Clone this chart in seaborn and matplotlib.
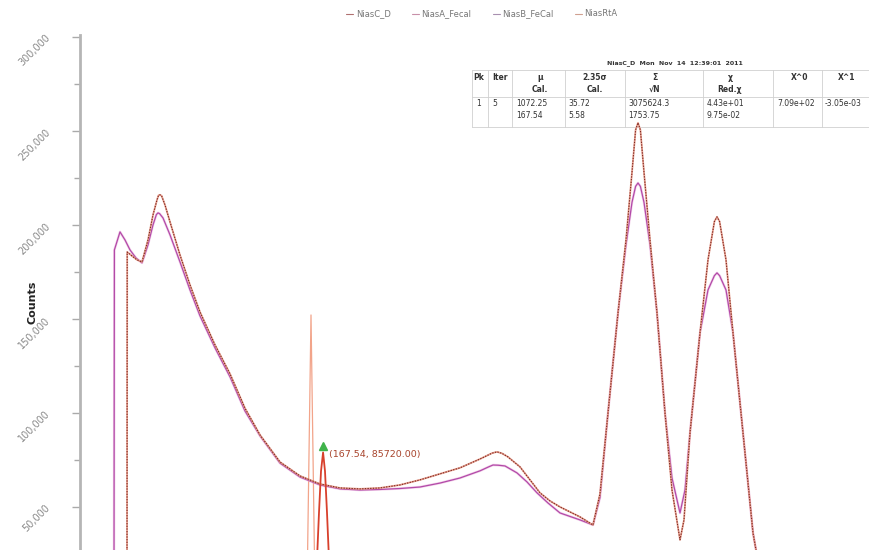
import numpy as np
import pandas as pd
import matplotlib
matplotlib.use('Agg')
import matplotlib.pyplot as plt
import matplotlib.ticker as mticker
from matplotlib.lines import Line2D
from matplotlib.patches import Rectangle
import seaborn as sns

# canales y cuentas
canal_c = [69.5, 69.6, 72, 74.5, 77, 80, 82.5, 84.5, 85.3, 86, 86.8, 88.5, 91, 96, 101, 106,
           113.5, 121, 128.5, 136, 146, 156, 166, 176, 186, 196, 206, 216, 226, 236, 246,
           252, 254.5, 257, 260, 266, 271, 276, 281, 286, 296, 302.5, 306, 310, 315, 319,
           322, 323.8, 325, 326.2, 328, 331, 334.5, 338.5, 342, 346, 348, 351, 356, 360,
           363.2, 364.5, 365.8, 369, 372.5, 377.5, 382.5, 386]
cuentas_c = [15000, 185600, 183500, 181400, 180300, 192000, 205300, 213300, 215800, 216000,
             215500, 210600, 201600, 184000, 168100, 153700, 136200, 120800, 102500, 88300,
             73900, 66500, 62200, 60100, 59600, 60100, 61700, 64400, 67600, 70800, 75500,
             78600, 79300, 78500, 76600, 71300, 64400, 57500, 53200, 50000, 44700, 40400,
             57000, 100000, 153200, 192000, 228000, 250500, 254300, 250500, 228000, 192000,
             153200, 100000, 59000, 32500, 43100, 89400, 142600, 181400, 201800, 204300,
             201800, 181400, 142600, 89400, 36200, 15000]

canal_b = [63, 63.2, 66, 68.5, 71, 74, 77, 80, 82.5, 84.2, 85, 85.8, 87.5, 91, 96, 101, 106,
           113.5, 121, 128.5, 136, 146, 156, 166, 176, 186, 196, 206, 216, 226, 236, 246,
           250.5, 252.5, 255, 258.5, 264.5, 269.5, 274.5, 280, 286, 296, 302.5, 306, 310,
           315, 319, 322, 323.8, 325, 326.2, 328, 331, 334.5, 338.5, 342, 346, 348.5, 351,
           356, 360, 363.2, 364.5, 365.8, 369, 372.5, 377.5, 382.5, 386]
cuentas_b = [15000, 186700, 196300, 192000, 186700, 182400, 179800, 189400, 200000, 205500,
             206400, 206000, 203700, 194700, 180300, 165400, 151600, 134600, 119200, 101000,
             87800, 73300, 65900, 61700, 59600, 59000, 59300, 59800, 60600, 62700, 65400,
             69200, 71400, 72300, 72200, 71800, 68100, 63300, 57500, 52100, 46800, 43100,
             40400, 55000, 100000, 153200, 189400, 212000, 220500, 222300, 220500, 212000,
             189400, 153200, 100000, 65400, 46800, 59000, 89400, 142600, 165400, 173000,
             174500, 173000, 165400, 142600, 89400, 36200, 15000]

canal_rta = [46, 159.5, 161.5, 163.5, 441]
cuentas_rta = [4000, 4000, 152100, 4000, 4000]

canal_ajuste = [162.5, 164.5, 165.5, 166.5, 167.54, 168.5, 169.5, 170.5, 172.5]
cuentas_ajuste = [5000, 22000, 47000, 69000, 79000, 69000, 47000, 22000, 5000]

pico_x, pico_y = 167.54, 85720.00
marcador_y = 82500

titulo_tabla = "NiasC_D  Mon  Nov  14  12:39:01  2011"
encabezados = [("Pk", ""), ("Iter", ""), ("\u03bc", "Cal."), ("2.35\u03c3", "Cal."),
               ("\u03a3", "\u221aN"), ("\u03c7", "Red.\u03c7"), ("X^0", ""), ("X^1", "")]
fila1 = ["1", "5", "1072.25", "35.72", "3075624.3", "4.43e+01", "7.09e+02", "-3.05e-03"]
fila2 = ["", "", "167.54", "5.58", "1753.75", "9.75e-02", "", ""]

sns.set_style('white')
fig = plt.figure(figsize=(8.7, 5.5), dpi=100)
fig.patch.set_facecolor('white')
ax = fig.add_axes([80 / 870, 0, 790 / 870, 515 / 550])
ax.patch.set_alpha(0)  # la tabla queda debajo de las curvas

df_c = pd.DataFrame({'canal': canal_c, 'cuentas': cuentas_c})
df_b = pd.DataFrame({'canal': canal_b, 'cuentas': cuentas_b})
df_rta = pd.DataFrame({'canal': canal_rta, 'cuentas': cuentas_rta})
df_aj = pd.DataFrame({'canal': canal_ajuste, 'cuentas': cuentas_ajuste})

sns.lineplot(data=df_rta, x='canal', y='cuentas', color='#f2a48a', lw=0.9, sort=False,
             estimator=None, ax=ax, legend=False)
sns.lineplot(data=df_b, x='canal', y='cuentas', color='#e8a6d8', lw=1.8, sort=False,
             estimator=None, ax=ax, legend=False, alpha=0.5)
sns.lineplot(data=df_b, x='canal', y='cuentas', color='#b24aa8', lw=0.9, sort=False,
             estimator=None, ax=ax, legend=False)
sns.lineplot(data=df_c, x='canal', y='cuentas', color='#e8a090', lw=1.3, sort=False,
             estimator=None, ax=ax, legend=False)
sns.lineplot(data=df_c, x='canal', y='cuentas', color='#7e2a22', lw=0.8, sort=False,
             estimator=None, ax=ax, legend=False, linestyle=(0, (1.2, 1.2)))
sns.lineplot(data=df_aj, x='canal', y='cuentas', color='#d8402c', lw=1.3, sort=False,
             estimator=None, ax=ax, legend=False)

ax.plot([pico_x], [marcador_y], marker='^', color='#3fb34a', ms=6, zorder=6)
ax.annotate(f"({pico_x:.2f}, {pico_y:.2f})", (pico_x, marcador_y), xytext=(4, -6),
            textcoords='offset points', ha='left', va='center', fontsize=6.8,
            color='#a8442c')

ax.set_xlim(46, 441)
ax.set_ylim(27100, 301000)
ax.yaxis.set_major_locator(mticker.MultipleLocator(50000))
ax.yaxis.set_minor_locator(mticker.MultipleLocator(25000))
ax.yaxis.set_major_formatter(mticker.FuncFormatter(lambda v, p: f"{v:,.0f}"))
ax.tick_params(axis='y', which='major', length=6, width=1, color='#aaaaaa',
               labelsize=7, labelcolor='#8a8a8a', rotation=45, pad=14, left=True)
ax.tick_params(axis='y', which='minor', length=4, width=1, color='#aaaaaa', left=True)
ax.set_xticks([])
ax.set_xlabel('')
ax.set_ylabel('Counts', fontsize=8, fontweight='bold', color='#222222')
ax.yaxis.set_label_coords(-0.054, 0.48)
for s in ['top', 'right', 'bottom']:
    ax.spines[s].set_visible(False)
ax.spines['left'].set_color('#b5b5b5')
ax.spines['left'].set_linewidth(2)

# leyenda
manijas = [Line2D([], [], color='#b07070', lw=0.8), Line2D([], [], color='#c890a8', lw=0.8),
           Line2D([], [], color='#a890b0', lw=0.8), Line2D([], [], color='#d0a090', lw=0.8)]
fig.legend(manijas, ['NiasC_D', 'NiasA_Fecal', 'NiasB_FeCal', 'NiasRtA'], ncol=4,
           loc='center', bbox_to_anchor=(482 / 870, 1 - 14 / 550), frameon=False,
           fontsize=6, handlelength=0.8, handletextpad=0.3, columnspacing=2.6,
           labelcolor='#777777')

# tabla de resultados (detras de los ejes)
def fx(px):
    return px / 870

def fy(py):
    return 1 - py / 550

for py in [70, 97, 127]:
    fig.lines.append(Line2D([fx(472), fx(870)], [fy(py), fy(py)], transform=fig.transFigure,
                            color='#d0d0d0', lw=0.6, zorder=-1))
for px in [472, 488, 512, 565, 625, 703, 773, 822]:
    fig.lines.append(Line2D([fx(px), fx(px)], [fy(70), fy(127)], transform=fig.transFigure,
                            color='#d0d0d0', lw=0.6, zorder=-1))

fig.text(fx(675), fy(63), titulo_tabla, fontsize=4.5, fontweight='bold', color='#333333',
         ha='center', va='center', zorder=-1)
centros = [479, 500, 540, 595, 655, 730, 800, 847]
for (a, b), cx in zip(encabezados, centros):
    fig.text(fx(cx), fy(77), a, fontsize=5.5, fontweight='bold', color='#333333',
             ha='center', va='center', zorder=-1)
    if b:
        fig.text(fx(cx), fy(89), b, fontsize=5.5, fontweight='bold', color='#333333',
                 ha='center', va='center', zorder=-1)
izq = [476, 492, 516, 568, 628, 707, 777, 825]
for v1, v2, lx in zip(fila1, fila2, izq):
    fig.text(fx(lx), fy(104), v1, fontsize=5.5, color='#333333', ha='left', va='center',
             zorder=-1)
    if v2:
        fig.text(fx(lx), fy(116), v2, fontsize=5.5, color='#333333', ha='left',
                 va='center', zorder=-1)

fig.savefig('out.png', dpi=100)
